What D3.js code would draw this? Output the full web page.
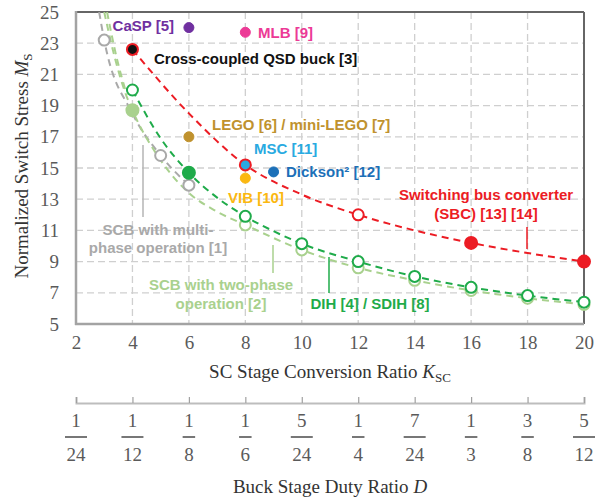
<!DOCTYPE html>
<html>
<head>
<meta charset="utf-8">
<title>Normalized Switch Stress</title>
<style>
html,body{margin:0;background:#fff;}
svg{display:block;}
.serif{font-family:"Liberation Serif","Times New Roman",serif;}
.lab{font-family:"Liberation Sans",Arial,sans-serif;font-weight:bold;font-size:15px;}
</style>
</head>
<body>
<div id="chart"></div>
<script src="https://cdn.jsdelivr.net/npm/d3@7"></script>
<script>
// ---- data ----
const kTicks = [2, 4, 6, 8, 10, 12, 14, 16, 18, 20];
const mTicks = [5, 7, 9, 11, 13, 15, 17, 19, 21, 23, 25];
const dNum = [1, 1, 1, 1, 5, 1, 7, 1, 3, 5];
const dDen = [24, 12, 8, 6, 24, 4, 24, 3, 8, 12];

// switching bus converter (red)
const sbcK = [4, 6, 8, 10, 12, 14, 16, 18, 20];
const sbcM = [22.6, 18.5, 15.2, 13.3, 12.0, 11.0, 10.2, 9.55, 9.0];
const sbcOpenK = [12], sbcOpenM = [12.0];
const sbcFillK = [16, 20], sbcFillM = [10.2, 9.0];

// DIH / SDIH (green)
const dihK = [4, 5, 6, 7, 8, 9, 10, 12, 14, 16, 18, 20];
const dihM = [20.0, 16.9, 14.7, 13.1, 11.9, 10.95, 10.15, 9.0, 8.05, 7.35, 6.82, 6.4];
const dihOpenK = [4, 8, 10, 12, 14, 16, 18, 20];
const dihOpenM = [20.0, 11.9, 10.15, 9.0, 8.05, 7.35, 6.82, 6.4];
const dihFillK = [6], dihFillM = [14.7];

// SCB with two-phase operation (light green)
const scb2K = [3.0, 3.4, 3.75, 4, 5, 6, 7, 8, 10, 12, 14, 16, 18, 20];
const scb2M = [25, 21.9, 19.8, 18.7, 15.5, 13.4, 12.2, 11.35, 9.75, 8.6, 7.8, 7.15, 6.65, 6.25];
const scb2bK = [3.1, 3.45, 3.8];
const scb2bM = [25, 22.0, 19.7];
const scb2OpenK = [8, 10, 12, 14, 16, 18, 20];
const scb2OpenM = [11.35, 9.75, 8.6, 7.8, 7.15, 6.65, 6.25];
const scb2FillK = [4], scb2FillM = [18.7];

// SCB with multi-phase operation (gray)
const scbmK = [2.82, 3, 4, 5, 6];
const scbmM = [25, 23.2, 18.5, 15.8, 13.9];
const scbmOpenK = [3, 5, 6], scbmOpenM = [23.2, 15.8, 13.9];

// other designs
const refNames = ["CaSP", "MLB", "QSD", "LEGO", "MSC", "Dickson", "VIB"];
const refK = [6, 8, 4, 6, 8, 9, 8];
const refM = [24.0, 23.7, 22.6, 17.0, 15.2, 14.75, 14.35];

// ---- style ----
const C = {
  red: "#ec1c24", green: "#1fab4a", lgreen: "#a9d18e", gray: "#a9a9a9",
  CaSP: "#7030a0", MLB: "#ec3a96", QSD: "#111111", LEGO: "#c0922e",
  MSC: "#29aae1", Dickson: "#1c70b8", VIB: "#fbb811"
};
const FS = 19;

const W = 595, H = 500;
const svg = d3.select("#chart").append("svg").attr("width", W).attr("height", H);

const x = d3.scaleLinear().domain([2, 20]).range([76, 584]);
const y = d3.scaleLinear().domain([5, 25]).range([324, 12]);
const xd = d3.scaleLinear().domain([1 / 24, 10 / 24]).range([76, 584]);

svg.append("clipPath").attr("id", "clip")
  .append("rect").attr("x", 76).attr("y", 12).attr("width", 508).attr("height", 312);

// grid
const grid = svg.append("g").attr("stroke", "#cfcfcf").attr("stroke-width", 1.3)
  .attr("stroke-dasharray", "7,4");
grid.selectAll(".gx").data(kTicks.slice(1, -1)).enter().append("line")
  .attr("x1", d => x(d)).attr("x2", d => x(d)).attr("y1", y(25)).attr("y2", y(5));
grid.selectAll(".gy").data(mTicks.slice(1, -1)).enter().append("line")
  .attr("y1", d => y(d)).attr("y2", d => y(d)).attr("x1", x(2)).attr("x2", x(20));

// frame
svg.append("line").attr("x1", x(2)).attr("x2", x(20)).attr("y1", y(25)).attr("y2", y(25))
  .attr("stroke", "#666").attr("stroke-width", 2);
svg.append("line").attr("x1", x(20)).attr("x2", x(20)).attr("y1", y(25)).attr("y2", y(5))
  .attr("stroke", "#666").attr("stroke-width", 2);
svg.append("line").attr("x1", x(2)).attr("x2", x(2)).attr("y1", y(25) - 1).attr("y2", y(5) + 1)
  .attr("stroke", "#a3a3a3").attr("stroke-width", 2.5);
svg.append("line").attr("x1", x(2) - 1).attr("x2", x(20)).attr("y1", y(5)).attr("y2", y(5))
  .attr("stroke", "#a3a3a3").attr("stroke-width", 2.5);

// axes tick labels via d3 axes
const yAxis = svg.append("g").attr("transform", `translate(${x(2)},0)`)
  .call(d3.axisLeft(y).tickValues(mTicks).tickSize(0).tickPadding(17));
const xAxis = svg.append("g").attr("transform", `translate(0,${y(5)})`)
  .call(d3.axisBottom(x).tickValues(kTicks).tickSize(0).tickPadding(12));
[yAxis, xAxis].forEach(a => {
  a.attr("font-family", null).attr("font-size", null);
  a.select(".domain").remove();
  a.selectAll("text").attr("class", "serif").attr("font-size", FS).attr("fill", "#5a5a5a");
});

// axis titles
const yt = svg.append("text").attr("class", "serif").attr("font-size", FS).attr("fill", "#333")
  .attr("text-anchor", "middle").attr("transform", "translate(28,166) rotate(-90)");
yt.append("tspan").text("Normalized Switch Stress ");
yt.append("tspan").attr("font-style", "italic").text("M");
yt.append("tspan").attr("font-size", 13).attr("dy", 4).text("S");

const xt = svg.append("text").attr("class", "serif").attr("font-size", FS).attr("fill", "#333")
  .attr("text-anchor", "middle").attr("x", 330).attr("y", 378);
xt.append("tspan").text("SC Stage Conversion Ratio ");
xt.append("tspan").attr("font-style", "italic").text("K");
xt.append("tspan").attr("font-size", 13).attr("dy", 4).text("SC");

// curves
const plot = svg.append("g").attr("clip-path", "url(#clip)");
const line = d3.line().x(d => x(d[0])).y(d => y(d[1])).curve(d3.curveMonotoneX);
function curve(ks, ms, color) {
  plot.append("path").datum(ks.map((k, i) => [k, ms[i]]))
    .attr("d", line).attr("fill", "none").attr("stroke", color)
    .attr("stroke-width", 2).attr("stroke-dasharray", "7,5");
}
curve(scbmK, scbmM, C.gray);
curve(scb2K, scb2M, C.lgreen);
curve(scb2bK, scb2bM, C.lgreen);
curve(dihK, dihM, C.green);
curve(sbcK, sbcM, C.red);

// markers
function dots(ks, ms, color, open, r) {
  svg.append("g").selectAll("circle").data(ks.map((k, i) => [k, ms[i]])).enter()
    .append("circle").attr("cx", d => x(d[0])).attr("cy", d => y(d[1])).attr("r", r || 5.5)
    .attr("fill", open ? "#fff" : color).attr("stroke", color).attr("stroke-width", 2);
}
dots(scbmOpenK, scbmOpenM, C.gray, true);
dots(scb2OpenK, scb2OpenM, C.lgreen, true);
dots(scb2FillK, scb2FillM, C.lgreen, false, 6);
dots(dihOpenK, dihOpenM, C.green, true);
dots(dihFillK, dihFillM, C.green, false, 6);
dots(sbcOpenK, sbcOpenM, C.red, true);
dots(sbcFillK, sbcFillM, C.red, false, 6);

// labeled designs
refNames.forEach((n, i) => {
  const ring = (n === "QSD" || n === "MSC");
  svg.append("circle").attr("cx", x(refK[i])).attr("cy", y(refM[i]))
    .attr("r", ring ? 5.5 : 5)
    .attr("fill", C[n]).attr("stroke", ring ? C.red : C[n]).attr("stroke-width", ring ? 2 : 1);
});

// annotations
function label(txt, xx, yy, color, anchor) {
  svg.append("text").attr("class", "lab").attr("x", xx).attr("y", yy)
    .attr("fill", color).attr("text-anchor", anchor || "start").text(txt);
}
function pointer(xx, y1, y2, color) {
  svg.append("line").attr("x1", xx).attr("x2", xx).attr("y1", y1).attr("y2", y2)
    .attr("stroke", color).attr("stroke-width", 1.5);
}
label("CaSP [5]", 174, 31, C.CaSP, "end");
label("MLB [9]", 258, 38, C.MLB);
label("Cross-coupled QSD buck [3]", 154, 64, C.QSD);
label("LEGO [6] / mini-LEGO [7]", 212, 130, C.LEGO);
label("MSC [11]", 254, 154, C.MSC);
label("Dickson² [12]", 286, 177, C.Dickson);
label("VIB [10]", 256, 203, C.VIB, "middle");
label("Switching bus converter", 486, 200, C.red, "middle");
label("(SBC) [13] [14]", 486, 219, C.red, "middle");
pointer(527, 227, 249, C.red);
label("SCB with multi-", 158, 235, C.gray, "middle");
label("phase operation [1]", 158, 253, C.gray, "middle");
pointer(143, 145, 217, "#b5b5b5");
label("SCB with two-phase", 221, 290, C.lgreen, "middle");
label("operation [2]", 221, 309, C.lgreen, "middle");
pointer(273, 245, 273, C.lgreen);
label("DIH [4] / SDIH [8]", 370, 309, C.green, "middle");
pointer(329, 257, 293, C.green);

// secondary axis: buck stage duty ratio
const dTicks = dNum.map((n, i) => n / dDen[i]);
const da = svg.append("g").attr("transform", "translate(0,403)")
  .call(d3.axisTop(xd).tickValues(dTicks).tickSize(6).tickFormat(""));
da.select(".domain").attr("stroke", "#bdbdbd").attr("stroke-width", 2);
da.selectAll(".tick line").attr("stroke", "#a0a0a0").attr("stroke-width", 1.2);

const fr = svg.append("g").selectAll("g").data(dTicks).enter().append("g")
  .attr("transform", d => `translate(${xd(d)},0)`);
fr.append("text").attr("class", "serif").attr("font-size", FS).attr("fill", "#5a5a5a")
  .attr("text-anchor", "middle").attr("y", 427).text((d, i) => dNum[i]);
const den = fr.append("text").attr("class", "serif").attr("font-size", FS).attr("fill", "#5a5a5a")
  .attr("text-anchor", "middle").attr("y", 461).text((d, i) => dDen[i]);
den.each(function () {
  const w = this.getComputedTextLength() + 3;
  d3.select(this.parentNode).append("line").attr("x1", -w / 2).attr("x2", w / 2)
    .attr("y1", 437).attr("y2", 437).attr("stroke", "#555").attr("stroke-width", 1.6);
});

const dt = svg.append("text").attr("class", "serif").attr("font-size", FS).attr("fill", "#333")
  .attr("text-anchor", "middle").attr("x", 330).attr("y", 493);
dt.append("tspan").text("Buck Stage Duty Ratio ");
dt.append("tspan").attr("font-style", "italic").text("D");
</script>
</body>
</html>
